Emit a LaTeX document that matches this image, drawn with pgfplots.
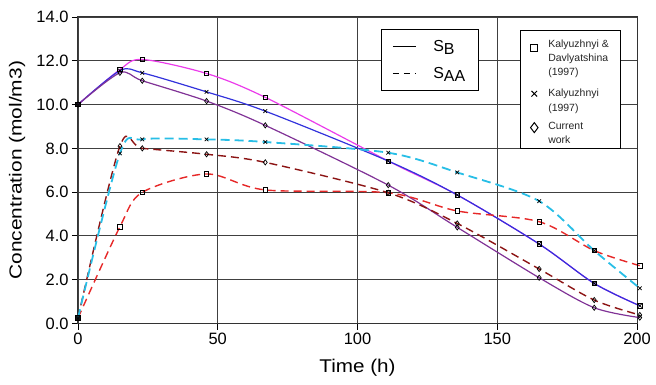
\documentclass[border=0pt]{standalone}
\usepackage{pgfplots}
\pgfplotsset{compat=1.18}
\usepackage{fontspec}
\setmainfont{Liberation Sans}
\usetikzlibrary{calc}
\definecolor{cMag}{RGB}{235,60,235}
\definecolor{cBlue}{RGB}{50,50,220}
\definecolor{cPurp}{RGB}{128,50,150}
\definecolor{cCyan}{RGB}{40,190,230}
\definecolor{cDRed}{RGB}{140,20,20}
\definecolor{cRed}{RGB}{230,40,40}
\pgfplotsset{
  mk/.style={mark options={solid,black,line width=0.7bp}, mark size=2.2bp},
}
\newcommand\st[1]{\rule{0pt}{#1}}
\begin{document}
\begin{tikzpicture}
\begin{axis}[
  scale only axis, width=559bp, height=306.5bp,
  xmin=0, xmax=200, ymin=0, ymax=14,
  clip=false,
  xtick={0,50,...,200}, ytick={0,2,...,14},
  /pgf/number format/assume math mode=true,
  y tick label style={/pgf/number format/.cd, fixed, fixed zerofill, precision=1, /tikz/.cd},
  tick label style={font=\fontsize{16.5}{18}\selectfont},
  grid=major,
  major grid style={draw=black!75, line width=0.9bp},
  axis line style={black!80, line width=1bp},
  tick pos=left, tick align=outside, major tick length=6bp,
  tick style={black, line width=0.9bp},
  xlabel={\scalebox{1.12}[1]{Time (h)}},
  ylabel={\scalebox{1.2}[1]{Concentration (mol/m3)}},
  every axis x label/.style={at={(axis description cs:0.5,-0.1452)}, anchor=center, font=\fontsize{18.5}{20}\selectfont},
  every axis y label/.style={at={(axis description cs:-0.1091,0.5)}, anchor=center, rotate=90, font=\fontsize{17.5}{20}\selectfont},
  legend style={at={(axis cs:108.4,13.45)}, anchor=north west, draw=black, line width=0.8bp, fill=white,
    font=\fontsize{16}{18}\selectfont, inner xsep=11bp, inner ysep=9bp, row sep=10bp,
    /tikz/every odd column/.append style={column sep=15bp}},
  legend image code/.code={\draw[#1] (0bp,0bp) -- (23bp,0bp);},
  legend cell align=left,
]
\coordinate (sw) at (rel axis cs:0,0);
\coordinate (ne) at (rel axis cs:1,1);
% S_B, Kalyuzhnyi & Davlyatshina
\addplot[cMag, line width=1.2bp, smooth, mark=square, mk, forget plot] coordinates {
(0,10) (15,11.6) (23,12.06) (46,11.42) (67,10.33) (111,7.42) (135.7,5.87) (165,3.63) (184.7,1.83) (201,0.81)};
% S_B, Kalyuzhnyi
\addplot[cBlue, line width=1.2bp, smooth, mark=x, mk, mark size=2.6bp, forget plot] coordinates {
(0,10) (15,11.55) (23,11.45) (46,10.58) (67,9.70) (111,7.42) (135.7,5.87) (165,3.63) (184.7,1.83) (201,0.81)};
% S_B, current work
\addplot[cPurp, line width=1.2bp, smooth, mark=diamond, mk, mark size=2.6bp, forget plot] coordinates {
(0,10) (15,11.45) (23,11.09) (46,10.16) (67,9.05) (111,6.32) (135.7,4.39) (165,2.09) (184.7,0.72) (201,0.27)};
% S_AA, Kalyuzhnyi & Davlyatshina
\addplot[cRed, line width=1.4bp, smooth, dash pattern=on 8bp off 5bp, mark=square, mk, forget plot] coordinates {
(0,0.25) (15,4.42) (23,5.99) (46,6.83) (67,6.10) (111,5.97) (135.7,5.14) (165,4.65) (184.7,3.33) (201,2.64)};
% S_AA, current work
\addplot[cDRed, line width=1.4bp, smooth, dash pattern=on 8bp off 5bp, mark=diamond, mk, mark size=2.6bp, forget plot] coordinates {
(0,0.25) (15,8.1) (23,8.0) (46,7.73) (67,7.36) (111,5.97) (135.7,4.57) (165,2.49) (184.7,1.07) (201,0.39)};
% S_AA, Kalyuzhnyi
\addplot[cCyan, line width=1.8bp, smooth, dash pattern=on 9bp off 5bp, mark=x, mk, mark size=2.6bp, forget plot] coordinates {
(0,0.25) (15,7.77) (23,8.41) (46,8.41) (67,8.29) (111,7.80) (135.7,6.90) (165,5.59) (184.7,3.33) (201,1.61)};
\addlegendimage{black, line width=0.9bp}
\addlegendentry{S\raisebox{-3bp}{B}}
\addlegendimage{black, line width=0.9bp, dash pattern=on 6bp off 5bp}
\addlegendentry{S\raisebox{-3bp}{AA}}
\end{axis}
\begin{axis}[
  scale only axis, width=559bp, height=306.5bp,
  xmin=0, xmax=200, ymin=0, ymax=14,
  hide axis,
  legend style={at={(axis cs:158.1,13.4)}, anchor=north west, draw=black, line width=0.8bp, fill=white,
    font=\fontsize{10.5}{12.7}\selectfont, text=black!85, inner xsep=10bp, inner ysep=4bp, row sep=0bp,
    nodes={inner ysep=0bp},
    /tikz/every odd column/.append style={column sep=8bp}},
  legend image code/.code={\path[use as bounding box, draw=none, fill=none] (0bp,-1bp) rectangle (8bp,1bp); \draw[#1, only marks] plot coordinates {(4bp,-6bp)};},
  legend cell align=left,
]
\addlegendimage{black, mark=square, mark size=3.5bp, line width=0.8bp}
\addlegendentry{\st{12.7bp}Kalyuzhnyi \&}
\addlegendimage{empty legend}
\addlegendentry{\st{12.7bp}Davlyatshina}
\addlegendimage{empty legend}
\addlegendentry{\st{12.7bp}(1997)}
\addlegendimage{black, mark=x, mark size=4bp, line width=1bp}
\addlegendentry{\st{19.7bp}Kalyuzhnyi}
\addlegendimage{empty legend}
\addlegendentry{\st{12.7bp}(1997)}
\addlegendimage{black, mark=diamond, mark size=5bp, line width=1bp}
\addlegendentry{\st{16.7bp}Current}
\addlegendimage{empty legend}
\addlegendentry{\st{12.7bp}work}
\end{axis}
\pgfresetboundingbox
\path ($(sw)+(-78bp,-61.5bp)$) rectangle ($(ne)+(19bp,17bp)$);
\end{tikzpicture}
\end{document}
